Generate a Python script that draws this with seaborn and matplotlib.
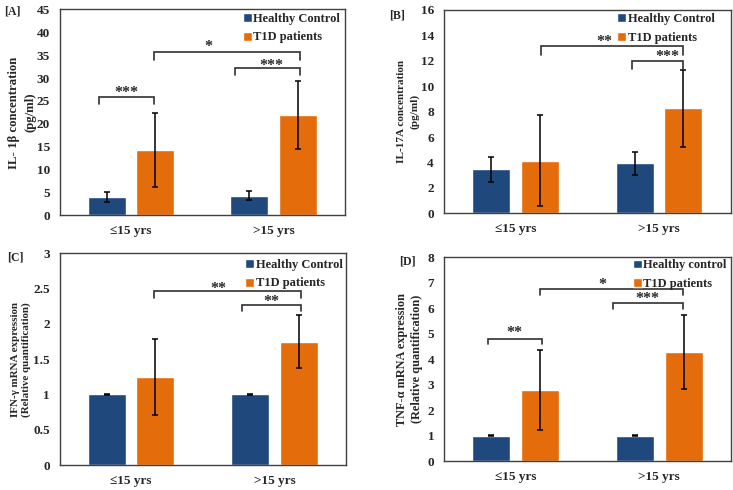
import numpy as np
import pandas as pd
import matplotlib
matplotlib.use("Agg")
import matplotlib.pyplot as plt
from matplotlib.container import BarContainer
from matplotlib.ticker import FuncFormatter, MultipleLocator
import seaborn as sns

# ---------------- data ----------------
groups = ["\u226415 yrs", ">15 yrs"]
series_abc = ["Healthy Control", "T1D patients"]
series_d = ["Healthy control", "T1D patients"]

a_hc = [4.0, 4.3]
a_hc_err = [1.0, 1.05]
a_t1d = [14.3, 21.9]
a_t1d_err = [8.1, 7.5]

b_hc = [3.45, 3.92]
b_hc_err = [0.95, 0.87]
b_t1d = [4.15, 8.25]
b_t1d_err = [3.6, 3.02]

c_hc = [1.0, 1.0]
c_hc_err = [0.004, 0.004]
c_t1d = [1.25, 1.75]
c_t1d_err = [0.54, 0.37]

d_hc = [1.0, 1.0]
d_hc_err = [0.01, 0.01]
d_t1d = [2.78, 4.28]
d_t1d_err = [1.58, 1.46]

# significance brackets: (x1, x2, y_top, y_arm, label, label_x, label_y)
a_brackets = [(-0.22, 0.165, 25.9, 24.3, "***", -0.03, 26.8),
              (0.165, 1.183, 35.8, 33.9, "*", 0.54, 36.7),
              (0.728, 1.183, 32.1, 30.6, "***", 0.985, 32.7)]
b_brackets = [(0.178, 1.165, 13.19, 12.45, "**", 0.62, 13.52),
              (0.81, 1.165, 11.98, 11.32, "***", 1.06, 12.3)]
c_brackets = [(0.163, 1.183, 2.47, 2.37, "**", 0.61, 2.5),
              (0.775, 1.183, 2.27, 2.18, "**", 0.98, 2.31)]
d_brackets = [(-0.19, 0.18, 4.79, 4.58, "**", -0.013, 5.02),
              (0.17, 1.165, 6.74, 6.52, "*", 0.6, 6.9),
              (0.675, 1.165, 6.2, 5.97, "***", 0.92, 6.37)]

BLUE = "#1F497D"
ORANGE = "#E46C0A"
EDGE = "#404040"

sns.set_style("white")
plt.rcParams["font.family"] = ["Liberation Serif", "DejaVu Serif"]
plt.rcParams["font.weight"] = "bold"
plt.rcParams["axes.labelweight"] = "bold"

fig = plt.figure(figsize=(7.33, 4.9), dpi=100)
W, H = 733.0, 490.0


def rect(l, r, t, b):
    return [l / W, 1 - b / H, (r - l) / W, (b - t) / H]


panels = [
    dict(rect=rect(59.5, 345, 9.5, 215.3), hc=a_hc, hce=a_hc_err, t=a_t1d, te=a_t1d_err,
         series=series_abc, ymax=45, step=5, br=a_brackets, tag="[A]", tagxy=(4, 11),
         ylabel="IL- 1\u03b2 concentration\n(pg/ml)", yfs=9.2, ls=1.5, labx=-0.08,
         leg=(0.642, 0.985)),
    dict(rect=rect(443.7, 730.7, 10, 213.3), hc=b_hc, hce=b_hc_err, t=b_t1d, te=b_t1d_err,
         series=series_abc, ymax=16, step=2, br=b_brackets, tag="[B]", tagxy=(389, 15),
         ylabel="IL-17A concentration\n(pg/ml)", yfs=8.1, ls=1.45, labx=-0.086,
         leg=(0.604, 0.985)),
    dict(rect=rect(59.5, 346, 253.3, 465), hc=c_hc, hce=c_hc_err, t=c_t1d, te=c_t1d_err,
         series=series_abc, ymax=3, step=0.5, br=c_brackets, tag="[C]", tagxy=(7, 258),
         ylabel="IFN-\u03b3 mRNA expression\n(Relative quantification)", yfs=7.9, ls=1.3,
         labx=-0.098, leg=(0.648, 0.975)),
    dict(rect=rect(444, 731, 257.3, 461), hc=d_hc, hce=d_hc_err, t=d_t1d, te=d_t1d_err,
         series=series_d, ymax=8, step=1, br=d_brackets, tag="[D]", tagxy=(399, 261),
         ylabel="TNF-\u03b1 mRNA expression\n(Relative quantification)", yfs=8.8, ls=1.27,
         labx=-0.074, leg=(0.658, 0.99)),
]

for p in panels:
    ax = fig.add_axes(p["rect"])
    df = pd.DataFrame({
        "group": groups * 2,
        "series": [p["series"][0]] * 2 + [p["series"][1]] * 2,
        "value": list(p["hc"]) + list(p["t"]),
    })
    errs = {(0, 0): p["hce"][0], (1, 0): p["hce"][1], (0, 1): p["te"][0], (1, 1): p["te"][1]}
    sns.barplot(data=df, x="group", y="value", hue="series", order=groups,
                hue_order=p["series"], palette=[BLUE, ORANGE], saturation=1,
                width=0.68, gap=0.22, errorbar=None, ax=ax, legend=True)
    bars = [b for c in list(ax.containers) if isinstance(c, BarContainer) for b in c]
    for patch in bars:
        cx = patch.get_x() + patch.get_width() / 2
        gi = int(round(cx))
        hi = 0 if cx < gi else 1
        ax.errorbar(cx, patch.get_height(), yerr=errs[(gi, hi)], fmt="none",
                    ecolor="black", elinewidth=1.1, capsize=2.4, capthick=1.1, zorder=4)
    ax.set_xlim(-0.5, 1.5)
    ax.set_ylim(0, p["ymax"])
    ax.yaxis.set_major_locator(MultipleLocator(p["step"]))
    ax.yaxis.set_major_formatter(FuncFormatter(lambda v, pos: "%g" % v))
    ax.set_xlabel("")
    ax.set_ylabel(p["ylabel"], fontsize=p["yfs"], fontweight="bold", linespacing=p["ls"])
    ax.yaxis.set_label_coords(p["labx"], 0.5)
    ax.tick_params(axis="x", length=0, labelsize=9.5, pad=7)
    ax.tick_params(axis="y", length=0, labelsize=9.5, pad=7)
    for lab in ax.get_xticklabels() + ax.get_yticklabels():
        lab.set_fontweight("bold")
    for s in ax.spines.values():
        s.set_visible(True)
        s.set_color(EDGE)
        s.set_linewidth(1.0)
    for (x1, x2, yt, ya, lab, lx, ly) in p["br"]:
        ax.plot([x1, x1, x2, x2], [ya, yt, yt, ya], color="#303030", lw=1.2,
                solid_joinstyle="miter", zorder=5, clip_on=False)
        ax.text(lx, ly, lab, ha="center", va="center", fontsize=11.5, fontweight="bold", zorder=6)
    sns.move_legend(ax, loc="upper left", bbox_to_anchor=p["leg"], title=None, frameon=False,
                    fontsize=9, handlelength=0.72, handleheight=0.72, handletextpad=0.12,
                    labelspacing=0.55, borderpad=0, borderaxespad=0)
    for t in ax.get_legend().get_texts():
        t.set_fontweight("bold")
    fig.text(p["tagxy"][0] / W, 1 - p["tagxy"][1] / H, p["tag"], ha="left", va="center",
             fontsize=8.5, fontweight="bold")

fig.savefig("out.png", dpi=100)
